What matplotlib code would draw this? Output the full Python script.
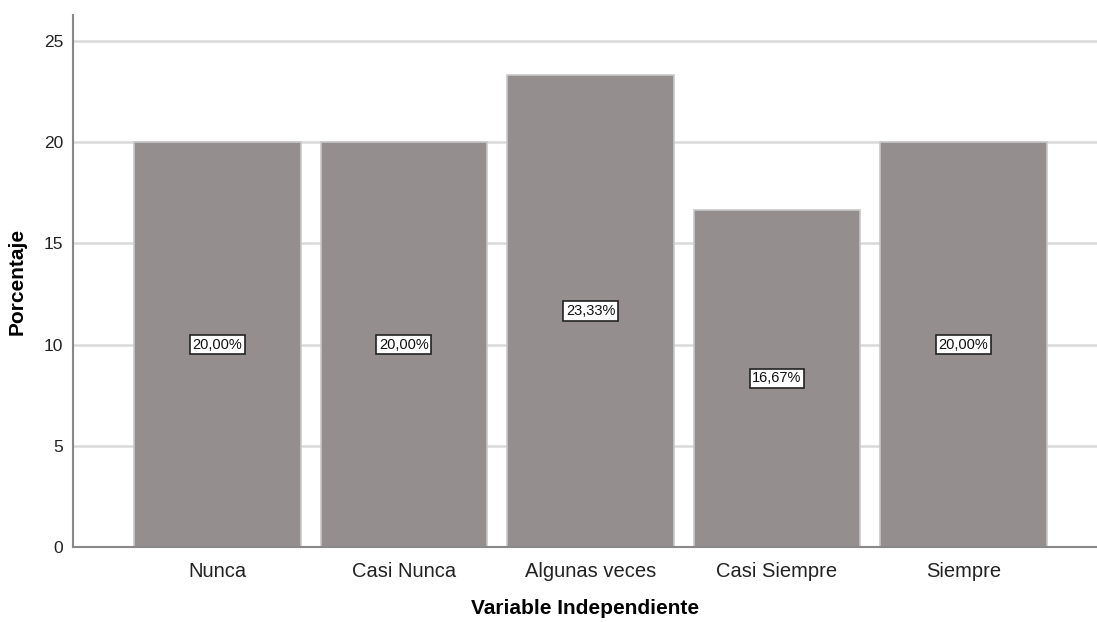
import matplotlib.pyplot as plt
import numpy as np

plt.rcParams['font.family'] = ['Liberation Sans', 'DejaVu Sans']

# Frequency distribution of the independent variable (percent)
categories = ['Nunca', 'Casi Nunca', 'Algunas veces', 'Casi Siempre', 'Siempre']
percentages = [20.00, 20.00, 23.33, 16.67, 20.00]

x = np.arange(len(categories))

fig = plt.figure(figsize=(10.97, 6.22), dpi=100)
ax = fig.add_axes([0.0665, 0.1206, 0.9335, 0.855])

bars = ax.bar(x, percentages, width=0.895, color='#948f8e',
              edgecolor='#c8c8c8', linewidth=1.2, zorder=2)

# Percentage labels centred inside each bar
for rect, val in zip(bars, percentages):
    ax.text(rect.get_x() + rect.get_width() / 2, val / 2,
            f'{val:.2f}%'.replace('.', ','),
            ha='center', va='center', fontsize=10.5, color='#111111', zorder=3,
            bbox=dict(boxstyle='square,pad=0.18', facecolor='white',
                      edgecolor='#222222', linewidth=1.2))

ax.set_xlim(-0.775, 4.716)
ax.set_ylim(0, 26.28)
ax.set_yticks([0, 5, 10, 15, 20, 25])
ax.set_xticks(x)
ax.set_xticklabels(categories, fontsize=14.5, color='#222222')
ax.tick_params(axis='y', labelsize=12.5, length=0, pad=7, colors='#222222')
ax.tick_params(axis='x', length=0, pad=11)

ax.grid(axis='y', color='#d9d9d9', linewidth=1.8, zorder=1)
ax.set_axisbelow(True)

for side in ['top', 'right']:
    ax.spines[side].set_visible(False)
for side in ['left', 'bottom']:
    ax.spines[side].set_color('#888888')
    ax.spines[side].set_linewidth(1.5)

ax.set_xlabel('Variable Independiente', fontsize=15, fontweight='bold', labelpad=13)
ax.set_ylabel('Porcentaje', fontsize=15, fontweight='bold', labelpad=12)

fig.savefig('out.png', dpi=100)
